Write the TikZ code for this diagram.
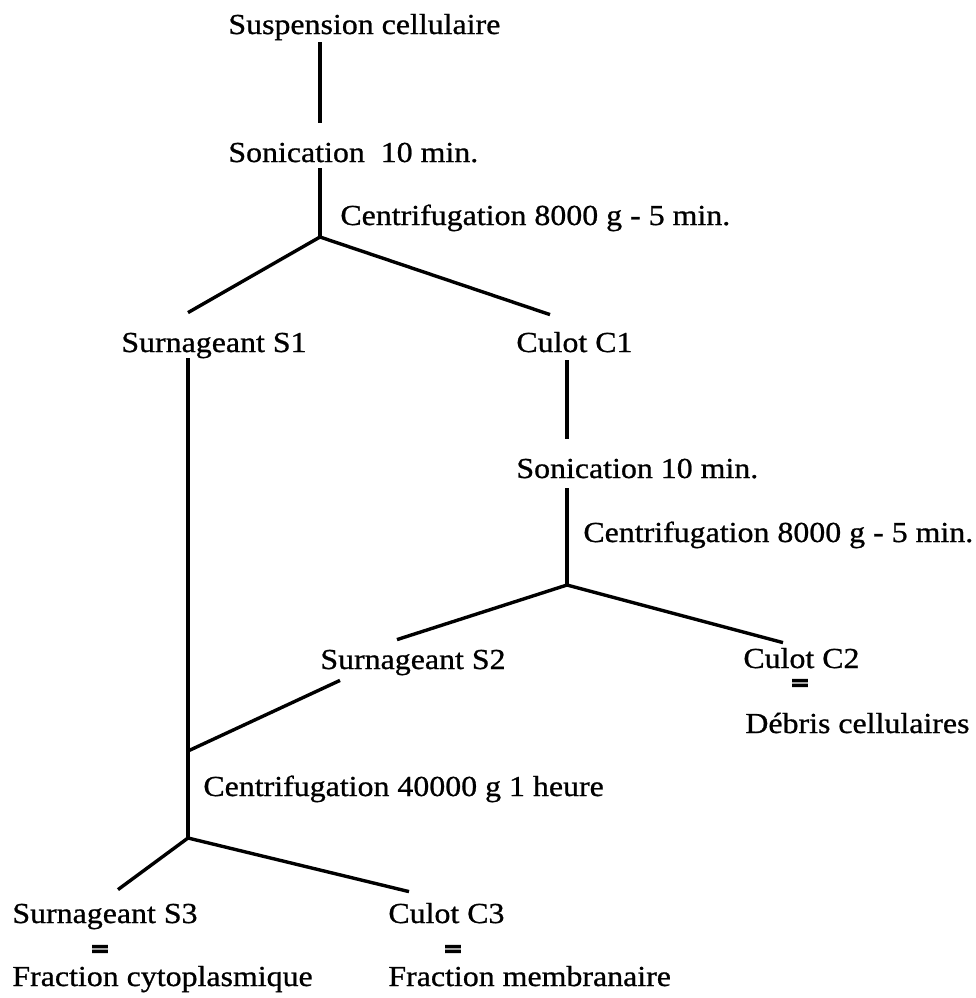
\documentclass[tikz,border=0pt]{standalone}
\usepackage{fontspec}
\setmainfont{Liberation Serif}[FakeStretch=1.1,FakeBold=0.8]
\newfontfamily\egalfont{Liberation Serif}[FakeStretch=1.2,FakeBold=10]
\usetikzlibrary{calc}
\tikzset{
  lbl/.style={anchor=base west,inner sep=0pt,text height=10pt,text depth=3pt,
    font=\fontsize{14.5}{17}\selectfont},
  egal/.style={anchor=base,inner sep=0pt,text height=4pt,text depth=0pt,
    font=\egalfont\fontsize{12}{12}\selectfont},
  trait/.style={line width=1.7pt,line cap=butt},
}

\begin{document}
\begin{tikzpicture}[x=0.5pt,y=-0.5pt]
        \useasboundingbox (0,0) rectangle (976,998);

        % textes
        \node[lbl] (susp) at (228,34)  {Suspension cellulaire};
        \node[lbl] (son1) at (228,162) {Sonication\hspace{0.55em}10 min.};
        \node[lbl] (cen1) at (340,225) {Centrifugation 8000 g - 5 min.};
        \node[lbl] (s1)   at (121,352) {Surnageant S1};
        \node[lbl] (c1)   at (516,352) {Culot C1};
        \node[lbl] (son2) at (516,478) {Sonication 10 min.};
        \node[lbl] (cen2) at (583,542) {Centrifugation 8000 g - 5 min.};
        \node[lbl] (s2)   at (320,669) {Surnageant S2};
        \node[lbl] (c2)   at (743,668) {Culot C2};
        \node[egal] (c2eq) at (800,691) {=};
        \node[lbl] (deb)  at (745,733) {D\'ebris cellulaires};
        \node[lbl] (cen3) at (203,796) {Centrifugation 40000 g 1 heure};
        \node[lbl] (s3)   at (12,923)  {Surnageant S3};
        \node[egal] (s3eq) at (100,957) {=};
        \node[lbl] (fr1)  at (12,986)  {Fraction cytoplasmique};
        \node[lbl] (c3)   at (388,923) {Culot C3};
        \node[egal] (c3eq) at (453,957) {=};
        \node[lbl] (fr2)  at (388,986) {Fraction membranaire};

        % points de branchement
        \coordinate (j1) at (320,237);
        \coordinate (j2) at (567,585);
        \coordinate (jm) at (188,751);
        \coordinate (j3) at (188,838);

        \draw[trait,shorten <=1pt,shorten >=9.5pt] (susp.south -| j1) -- (son1.north -| j1);
        \draw[trait] (son1.south -| j1) -- (j1);
        \draw[trait] ($(s1.north -| j3)+(0,9.5pt)$) -- (j1) -- ($(c1.north west)+(17pt,8.5pt)$);

        \draw[trait] (s1.south -| j3) -- (j3);
        \draw[trait,shorten <=1pt,shorten >=9.5pt] (c1.south -| j2) -- (son2.north -| j2);
        \draw[trait,shorten <=2pt] (son2.south -| j2) -- (j2);
        \draw[trait] ($(s2.north west)+(38.5pt,4.5pt)$) -- (j2) -- ($(c2.north west)+(20pt,2.5pt)$);

        \draw[trait] ($(s2.south west)+(10pt,-2.5pt)$) -- (jm);
        \draw[trait] ($(s3.north west)+(53pt,6.5pt)$) -- (j3) -- ($(c3.north west)+(10.5pt,5.5pt)$);
\end{tikzpicture}
\end{document}
